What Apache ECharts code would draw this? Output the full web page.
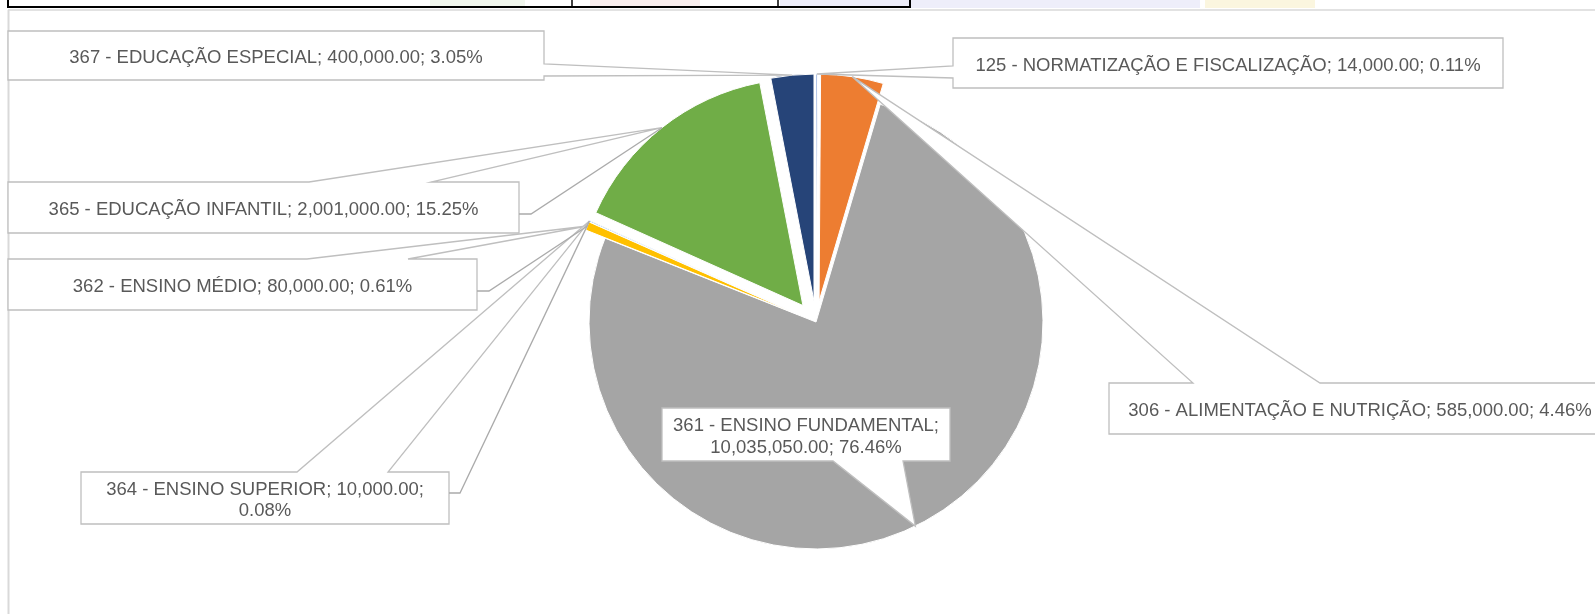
<!DOCTYPE html>
<html>
<head>
<meta charset="utf-8">
<script src="https://cdn.jsdelivr.net/npm/echarts@6/dist/echarts.min.js"></script>
<style>
html,body{margin:0;padding:0;background:#ffffff;}
#c{width:1595px;height:614px;}
</style>
</head>
<body>
<div id="c"></div>
<script>
// ---- data ----
const categories = [
  '125 - NORMATIZAÇÃO E FISCALIZAÇÃO',
  '306 - ALIMENTAÇÃO E NUTRIÇÃO',
  '361 - ENSINO FUNDAMENTAL',
  '362 - ENSINO MÉDIO',
  '364 - ENSINO SUPERIOR',
  '365 - EDUCAÇÃO INFANTIL',
  '367 - EDUCAÇÃO ESPECIAL'
];
const values = [14000, 585000, 10035050, 80000, 10000, 2001000, 400000];

// ---- styles / layout ----
const sliceColors = ['#4472C4', '#ED7D31', '#A5A5A5', '#FFC000', '#5B9BD5', '#70AD47', '#264478'];
const exploded = [true, true, false, true, true, true, true];
const pieCenter = [816, 322];
const pieRadius = 227;
const explodeOffset = 21;

// callout boxes: [x, y, w, h], wedge base points on the box edge, optional leader stub, line break
const calloutLayout = [
  { box: [953, 38, 550, 50],  wedge: [[953, 66], [953, 78]] },
  { box: [1109, 383, 502, 51], wedge: [[1193, 383], [1320, 383]] },
  { box: [662, 408, 288, 53], wedge: [[833, 461], [903, 461]], breakAfter: 1, lineHeight: 22 },
  { box: [8, 259, 469, 51],   wedge: [[307, 259], [408, 259]], stub: [[477, 291], [489, 291]] },
  { box: [81, 472, 368, 52],  wedge: [[297, 472], [388, 472]], stub: [[449, 493], [460, 493]], breakAfter: 2, lineHeight: 21 },
  { box: [8, 182, 511, 51],   wedge: [[309, 182], [431, 182]], stub: [[519, 214], [531, 214]] },
  { box: [8, 31, 536, 49],    wedge: [[544, 64], [544, 76]] }
];
const textShiftY = 2.5;

const chart = echarts.init(document.getElementById('c'), null, { renderer: 'canvas' });
const total = values.reduce((a, b) => a + b, 0);

chart.setOption({
  animation: false,
  backgroundColor: '#ffffff',
  series: [{
    type: 'pie',
    center: pieCenter,
    radius: pieRadius,
    startAngle: 90,
    clockwise: true,
    selectedMode: 'multiple',
    selectedOffset: explodeOffset,
    silent: true,
    avoidLabelOverlap: false,
    label: { show: false },
    labelLine: { show: false },
    emphasis: { disabled: true },
    select: { itemStyle: { borderWidth: 1, borderColor: '#ffffff' } },
    itemStyle: { borderWidth: 1, borderColor: '#ffffff' },
    data: categories.map((n, i) => ({
      name: n,
      value: values[i],
      selected: exploded[i],
      itemStyle: { color: sliceColors[i] },
      select: { itemStyle: { color: sliceColors[i], borderWidth: 1, borderColor: '#ffffff' } }
    }))
  }]
});

// ---- callouts built from the pie's own layout ----
function sliceLayouts() {
  try {
    const d = chart.getModel().getSeriesByIndex(0).getData();
    const arr = values.map((v, i) => d.getItemLayout(i));
    if (arr.every(l => l && isFinite(l.startAngle))) return arr;
  } catch (e) {}
  let a = -Math.PI / 2;
  return values.map(v => {
    const s = a; a += v / total * Math.PI * 2;
    return { startAngle: s, endAngle: a, cx: pieCenter[0], cy: pieCenter[1], r: pieRadius };
  });
}
const lays = sliceLayouts();
const fmtNum = v => v.toLocaleString('en-US', { minimumFractionDigits: 2, maximumFractionDigits: 2 });

const graphics = [];
// frame / top band
graphics.push({ type: 'rect', silent: true, z: 1, shape: { x: 430, y: 0, width: 95, height: 8 }, style: { fill: '#F1F7EE' } });
graphics.push({ type: 'rect', silent: true, z: 1, shape: { x: 590, y: 0, width: 110, height: 8 }, style: { fill: '#F9EEEE' } });
graphics.push({ type: 'rect', silent: true, z: 1, shape: { x: 780, y: 0, width: 420, height: 8 }, style: { fill: '#EEEEFA' } });
graphics.push({ type: 'rect', silent: true, z: 1, shape: { x: 1205, y: 0, width: 110, height: 8 }, style: { fill: '#FBF6DF' } });
graphics.push({ type: 'polyline', silent: true, z: 2, shape: { points: [[8, 0], [8, 7], [910, 7], [910, 0]] }, style: { stroke: '#000', lineWidth: 2, fill: null } });
graphics.push({ type: 'line', silent: true, z: 2, shape: { x1: 572, y1: 0, x2: 572, y2: 7 }, style: { stroke: '#000', lineWidth: 1.5 } });
graphics.push({ type: 'line', silent: true, z: 2, shape: { x1: 778, y1: 0, x2: 778, y2: 7 }, style: { stroke: '#000', lineWidth: 1.5 } });
graphics.push({ type: 'line', silent: true, z: 2, shape: { x1: 8, y1: 10, x2: 1595, y2: 10 }, style: { stroke: '#D9D9D9', lineWidth: 1.5 } });
graphics.push({ type: 'line', silent: true, z: 2, shape: { x1: 8.5, y1: 10, x2: 8.5, y2: 614 }, style: { stroke: '#D9D9D9', lineWidth: 2 } });

calloutLayout.forEach((c, i) => {
  const l = lays[i];
  const mid = (l.startAngle + l.endAngle) / 2;
  const R = (l.r || pieRadius) + (exploded[i] ? explodeOffset : 0);
  const cx = l.cx != null ? l.cx : pieCenter[0];
  const cy = l.cy != null ? l.cy : pieCenter[1];
  const tip = [cx + R * Math.cos(mid), cy + R * Math.sin(mid)];
  const [x, y, w, h] = c.box;
  const [p, q] = c.wedge;
  let pts;
  if (Math.abs(p[1] - y) < 1 && Math.abs(q[1] - y) < 1) {          // top
    const a = p[0] < q[0] ? p : q, b = p[0] < q[0] ? q : p;
    pts = [[x, y], a, tip, b, [x + w, y], [x + w, y + h], [x, y + h]];
  } else if (Math.abs(p[0] - (x + w)) < 1) {                          // right
    const a = p[1] < q[1] ? p : q, b = p[1] < q[1] ? q : p;
    pts = [[x, y], [x + w, y], a, tip, b, [x + w, y + h], [x, y + h]];
  } else if (Math.abs(p[1] - (y + h)) < 1) {                          // bottom
    const a = p[0] > q[0] ? p : q, b = p[0] > q[0] ? q : p;
    pts = [[x, y], [x + w, y], [x + w, y + h], a, tip, b, [x, y + h]];
  } else {                                                            // left
    const a = p[1] > q[1] ? p : q, b = p[1] > q[1] ? q : p;
    pts = [[x, y], [x + w, y], [x + w, y + h], [x, y + h], a, tip, b];
  }
  graphics.push({
    type: 'polygon', silent: true, z: 10 + i,
    shape: { points: pts },
    style: { fill: '#ffffff', stroke: '#BFBFBF', lineWidth: 1.3 }
  });
  const parts = [categories[i], fmtNum(values[i]), (values[i] / total * 100).toFixed(2) + '%'];
  let text;
  if (c.breakAfter) {
    text = parts.slice(0, c.breakAfter).join('; ') + ';\n' + parts.slice(c.breakAfter).join('; ');
  } else {
    text = parts.join('; ');
  }
  graphics.push({
    type: 'text', silent: true, z: 10 + i, z2: 5,
    x: x + w / 2, y: y + h / 2 + textShiftY,
    style: {
      text: text, fill: '#595959',
      font: '18.5px "Liberation Sans", Arial, sans-serif',
      align: 'center', verticalAlign: 'middle',
      lineHeight: c.lineHeight || 22
    }
  });
  if (c.stub) {
    graphics.push({
      type: 'polyline', silent: true, z: 30,
      shape: { points: [c.stub[0], c.stub[1], tip] },
      style: { stroke: '#ABABAB', lineWidth: 1.3, fill: null }
    });
  }
});

chart.setOption({ graphic: { elements: graphics } });
</script>
</body>
</html>
